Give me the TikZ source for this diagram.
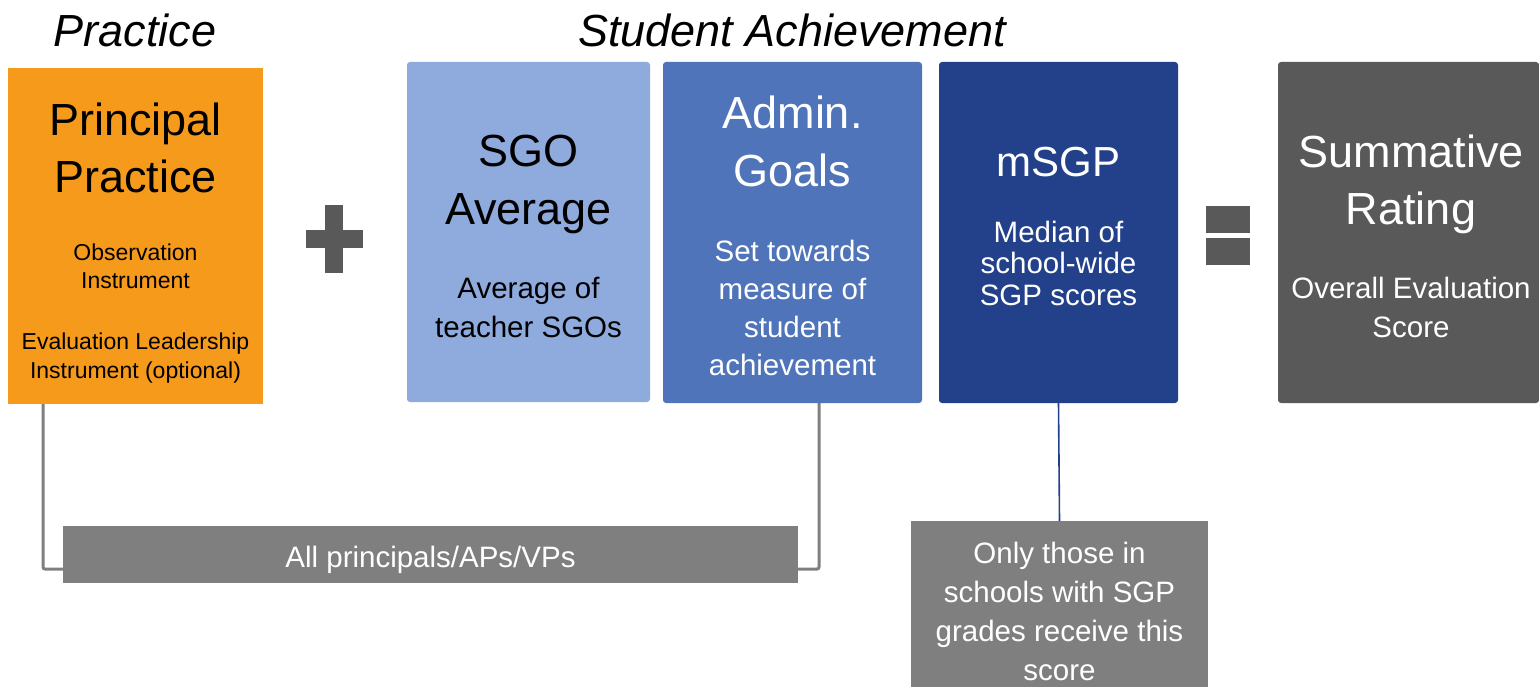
\documentclass[tikz,border=0pt]{standalone}
\usepackage{fontspec}
\setmainfont{Liberation Sans}
\definecolor{cOrange}{RGB}{246,154,27}
\definecolor{cSgo}{RGB}{143,170,220}
\definecolor{cAdmin}{RGB}{80,116,186}
\definecolor{cNavy}{RGB}{34,65,138}
\definecolor{cDark}{RGB}{89,89,89}
\definecolor{cMid}{RGB}{127,127,127}
\begin{document}
\begin{tikzpicture}[x=1pt,y=-1pt,
  box/.style={rectangle,inner sep=0,outer sep=0,draw=none},
  rbox/.style={box,rounded corners=3pt},
  txt/.style={anchor=base,inner sep=0,outer sep=0},
  head/.style={txt,font=\fontsize{45}{54}\selectfont\itshape},
  ttl/.style={txt,font=\fontsize{45}{54}\selectfont},
  sub/.style={txt,font=\fontsize{29.5}{36}\selectfont},
  small/.style={txt,font=\fontsize{23}{28}\selectfont},
  conn/.style={draw=cMid,line width=3pt,rounded corners=2pt},
  thin/.style={draw=cNavy,line width=1.6pt}]
\useasboundingbox (0,0) rectangle (1539,687);

% headings
\node[head] (hp) at (135,47) {Practice};
\node[head] (hs) at (792,47) {Student Achievement};

% connectors behind boxes
\coordinate (ppfoot) at (43,404);
\coordinate (agfoot) at (819,403);
\draw[conn] (ppfoot) -- ++(0,165) -| (agfoot);

% boxes
\node[box,fill=cOrange,minimum width=255,minimum height=336] (pp) at (135.5,236) {};
\node[rbox,fill=cSgo,minimum width=243,minimum height=340] (sgo) at (528.5,232) {};
\node[rbox,fill=cAdmin,minimum width=259,minimum height=341] (ag) at (792.5,232.5) {};
\node[rbox,fill=cNavy,minimum width=239,minimum height=341] (ms) at (1058.5,232.5) {};
\node[rbox,fill=cDark,minimum width=261,minimum height=341] (sr) at (1408.5,232.5) {};
\node[box,fill=cMid,minimum width=735,minimum height=57] (all) at (430.5,554.5) {};
\node[box,fill=cMid,minimum width=297,minimum height=166] (only) at (1059.5,604) {};

\draw[thin] (ms.south) -- (only.north);

% plus and equals
\fill[cDark] (306,230) rectangle (363,248);
\fill[cDark] (325,205) rectangle (343,273);
\fill[cDark] (1206,206) rectangle (1250,233);
\fill[cDark] (1206,238) rectangle (1250,265);

% Principal practice
\node[ttl] (pp1) at (135.5,136) {Principal};
\node[ttl] (pp2) at (135.5,193) {Practice};
\node[small] (pp3) at (135.5,260) {Observation};
\node[small] (pp4) at (135.5,288) {Instrument};
\node[small] (pp5) at (135.5,349) {Evaluation Leadership};
\node[small] (pp6) at (135.5,378) {Instrument (optional)};

% SGO
\node[ttl] (sg1) at (528.5,167) {SGO};
\node[ttl] (sg2) at (528.5,225) {Average};
\node[sub] (sg3) at (528.5,298) {Average of};
\node[sub] (sg4) at (528.5,337) {teacher SGOs};

% Admin goals
\node[ttl,text=white] (ag1) at (792.5,129) {Admin.};
\node[ttl,text=white] (ag2) at (792.5,187) {Goals};
\node[sub,text=white] (ag3) at (792.5,261) {Set towards};
\node[sub,text=white] (ag4) at (792.5,299) {measure of};
\node[sub,text=white] (ag5) at (792.5,337) {student};
\node[sub,text=white] (ag6) at (792.5,375) {achievement};

% mSGP
\node[txt,text=white,font=\fontsize{42}{50}\selectfont] (ms1) at (1058.5,177) {mSGP};
\node[sub,text=white] (ms2) at (1058.5,242) {Median of};
\node[sub,text=white] (ms3) at (1058.5,273) {school-wide};
\node[sub,text=white] (ms4) at (1058.5,305) {SGP scores};

% Summative
\node[ttl,text=white] (sr1) at (1411,168) {Summative};
\node[ttl,text=white] (sr2) at (1411,225) {Rating};
\node[sub,text=white] (sr3) at (1411,298) {Overall Evaluation};
\node[sub,text=white] (sr4) at (1411,337) {Score};

% bottom labels
\node[sub,text=white] (all1) at (430.5,567) {All principals/APs/VPs};
\node[sub,text=white] (on1) at (1059.5,563) {Only those in};
\node[sub,text=white] (on2) at (1059.5,602) {schools with SGP};
\node[sub,text=white] (on3) at (1059.5,641) {grades receive this};
\node[sub,text=white] (on4) at (1059.5,680) {score};
\end{tikzpicture}
\end{document}
